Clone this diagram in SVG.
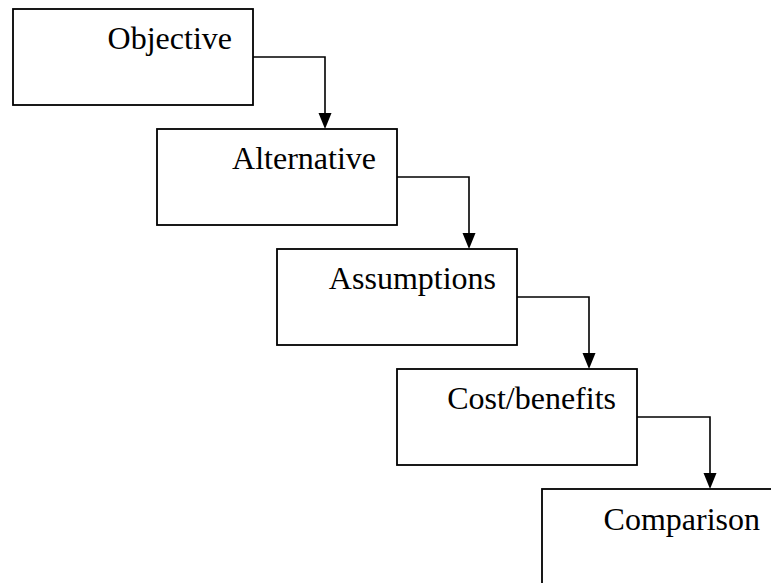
<svg xmlns="http://www.w3.org/2000/svg" width="771" height="583" viewBox="0 0 771 583">
<defs>
<style>
.box{fill:#fff;stroke:#000;stroke-width:1.8}
.lbl{font-family:"Liberation Serif","Times New Roman",serif;font-size:32px;fill:#000;text-anchor:end}
.con{fill:none;stroke:#000;stroke-width:1.6}
.head{fill:#000}
</style>
</defs>
<rect width="771" height="583" fill="#fff"/>
<g id="connectors">
<path class="con" d="M253 57H325V114"/>
<polygon class="head" points="318.5,113 331.5,113 325,129"/>
<path class="con" d="M397 177H469V234"/>
<polygon class="head" points="462.5,233 475.5,233 469,249"/>
<path class="con" d="M517 297H589V354"/>
<polygon class="head" points="582.5,353 595.5,353 589,369"/>
<path class="con" d="M637 417H710V474"/>
<polygon class="head" points="703.5,473 716.5,473 710,489"/>
</g>
<g id="objective">
<rect class="box" x="13" y="9" width="240" height="96"/>
<text class="lbl" x="232" y="49">Objective</text>
</g>
<g id="alternative">
<rect class="box" x="157" y="129" width="240" height="96"/>
<text class="lbl" x="376" y="169">Alternative</text>
</g>
<g id="assumptions">
<rect class="box" x="277" y="249" width="240" height="96"/>
<text class="lbl" x="496" y="289">Assumptions</text>
</g>
<g id="costbenefits">
<rect class="box" x="397" y="369" width="240" height="96"/>
<text class="lbl" x="616" y="409">Cost/benefits</text>
</g>
<g id="comparison">
<rect class="box" x="542" y="489" width="240" height="120"/>
<text class="lbl" x="760" y="530">Comparison</text>
</g>
</svg>
